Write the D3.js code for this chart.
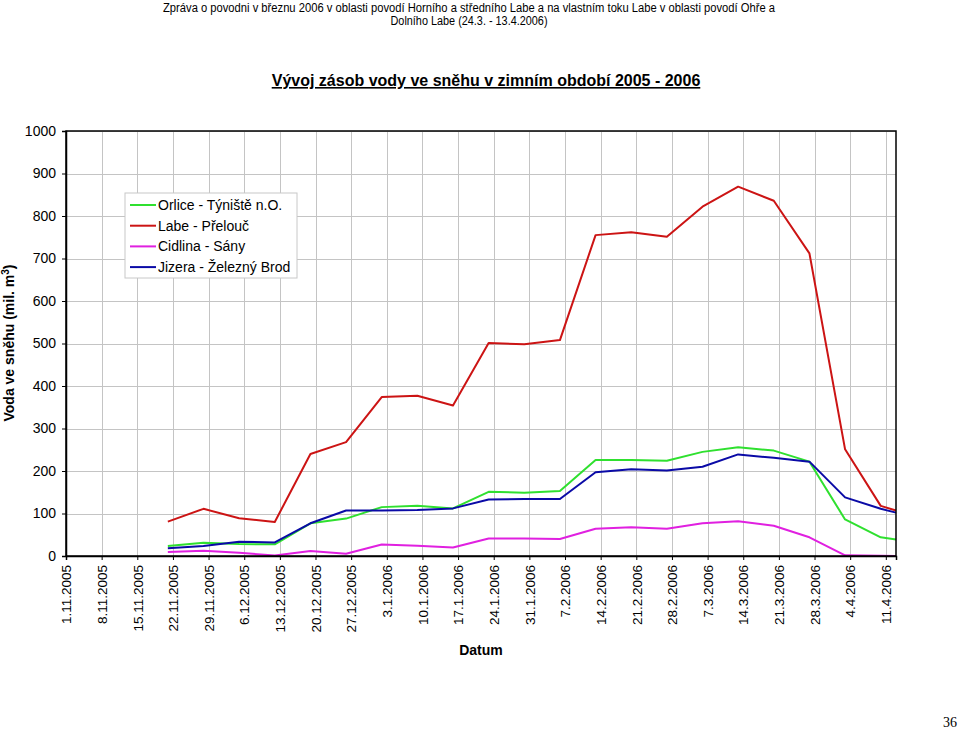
<!DOCTYPE html>
<html>
<head>
<meta charset="utf-8">
<script src="https://cdn.jsdelivr.net/npm/d3@7/dist/d3.min.js"></script>
<style>
  html, body { margin: 0; padding: 0; background: #fff; }
  svg { display: block; }
</style>
</head>
<body>
<svg id="chart" width="959" height="729"></svg>
<script>
// ---- data ----
const dates = ["21.11.2005","28.11.2005","5.12.2005","12.12.2005","19.12.2005","26.12.2005",
  "2.1.2006","9.1.2006","16.1.2006","23.1.2006","30.1.2006","6.2.2006","13.2.2006","20.2.2006",
  "27.2.2006","6.3.2006","13.3.2006","20.3.2006","27.3.2006","3.4.2006","10.4.2006","13.4.2006"];
const orlice  = [23.5,31,28,27.5,77,88,115,118,112,151,149,153,226,226,224,245,256,248,222,86,44,39];
const labe    = [81,111,89,80,240,268,374,377,354,501,498,508,755,762,751,822,869,836,712,251,118,107];
const cidlina = [9.4,12.5,7.8,1,11.8,5.5,27,24,20,41,41,40,64,67.5,64,77,82,71,44,1.6,0.7,0];
const jizera  = [18,23.5,33.7,32,77,107,107,108,112,133,134,134,197,204,201,210,239,231,222,138,111,102];
const seriesNames = ["Orlice - Týniště n.O.","Labe - Přelouč","Cidlina - Sány","Jizera - Železný Brod"];
const seriesColors = ["#2fe02f","#cc1414","#e020e0","#0a0aa6"];
const xTickLabels = ["1.11.2005","8.11.2005","15.11.2005","22.11.2005","29.11.2005","6.12.2005",
  "13.12.2005","20.12.2005","27.12.2005","3.1.2006","10.1.2006","17.1.2006","24.1.2006","31.1.2006",
  "7.2.2006","14.2.2006","21.2.2006","28.2.2006","7.3.2006","14.3.2006","21.3.2006","28.3.2006",
  "4.4.2006","11.4.2006"];
const yTicks = [0,100,200,300,400,500,600,700,800,900,1000];
const xDomain = ["1.11.2005","13.4.2006"];

// ---- layout ----
const svg = d3.select("#chart");
const parse = d3.utcParse("%d.%m.%Y");
const L = 66, R = 896, T = 131, B = 556;
const x = d3.scaleUtc().domain(xDomain.map(parse)).range([L, R]);
const y = d3.scaleLinear().domain([0, 1000]).range([B, T]);

// header
const hdr = svg.append("g").attr("font-family", "'Liberation Sans Narrow', 'Liberation Sans', Arial, sans-serif")
  .attr("font-size", 12.5).attr("fill", "#000").attr("text-anchor", "middle");
hdr.append("text").attr("x", 469).attr("y", 12)
  .attr("textLength", 612).attr("lengthAdjust", "spacingAndGlyphs")
  .text("Zpráva o povodni v březnu 2006 v oblasti povodí Horního a středního Labe a na vlastním toku Labe v oblasti povodí Ohře a");
hdr.append("text").attr("x", 469).attr("y", 25)
  .attr("textLength", 157).attr("lengthAdjust", "spacingAndGlyphs")
  .text("Dolního Labe (24.3. - 13.4.2006)");

// title
svg.append("text").attr("x", 486).attr("y", 86).attr("text-anchor", "middle")
  .attr("font-family", "'Liberation Sans', Arial, sans-serif").attr("font-size", 16)
  .attr("font-weight", "bold").attr("text-decoration", "underline")
  .text("Vývoj zásob vody ve sněhu v zimním období 2005 - 2006");

// gridlines
const grid = svg.append("g").attr("stroke", "#c4c4c4").attr("stroke-width", 1);
grid.selectAll("line.h").data(yTicks).join("line")
  .attr("x1", L).attr("x2", R).attr("y1", d => Math.round(y(d)) + 0.5).attr("y2", d => Math.round(y(d)) + 0.5);
grid.selectAll("line.v").data(xTickLabels).join("line")
  .attr("x1", d => Math.round(x(parse(d))) + 0.5).attr("x2", d => Math.round(x(parse(d))) + 0.5)
  .attr("y1", T).attr("y2", B);

// lines
const allSeries = [orlice, labe, cidlina, jizera];
const line = d3.line().x((d, i) => x(parse(dates[i]))).y(d => y(d));
svg.append("g").selectAll("path").data(allSeries).join("path")
  .attr("d", d => line(d)).attr("fill", "none")
  .attr("stroke", (d, i) => seriesColors[i]).attr("stroke-width", 2)
  .attr("stroke-linejoin", "round");

// plot frame
svg.append("rect").attr("x", L).attr("y", T).attr("width", R - L).attr("height", B - T)
  .attr("fill", "none").attr("stroke", "#000").attr("stroke-width", 1.5);

// y axis
const yAxis = d3.axisLeft(y).tickValues(yTicks).tickSize(4).tickPadding(6).tickFormat(d3.format("d"));
const gy = svg.append("g").attr("transform", `translate(${L},0)`).call(yAxis);
gy.select(".domain").attr("stroke", "#000").attr("stroke-width", 1.5);
gy.selectAll("text").attr("font-family", "'Liberation Sans', Arial, sans-serif").attr("font-size", 14).attr("fill", "#000");

// x axis
const xAxis = d3.axisBottom(x).tickValues(xTickLabels.map(parse)).tickSize(4)
  .tickFormat((d, i) => xTickLabels[i]);
const gx = svg.append("g").attr("transform", `translate(0,${B})`).call(xAxis);
gx.select(".domain").attr("stroke", "#000").attr("stroke-width", 1.5);
gx.selectAll("text").attr("font-family", "'Liberation Sans', Arial, sans-serif").attr("font-size", 13.5)
  .attr("fill", "#000").attr("transform", "rotate(-90)").attr("text-anchor", "end")
  .attr("x", -9).attr("y", 0).attr("dy", "0.35em");

// axis titles
const yl = svg.append("text").attr("transform", "translate(14,343) rotate(-90)")
  .attr("text-anchor", "middle").attr("font-family", "'Liberation Sans', Arial, sans-serif")
  .attr("font-size", 14).attr("font-weight", "bold");
yl.append("tspan").text("Voda ve sněhu (mil. m");
yl.append("tspan").attr("baseline-shift", "super").attr("font-size", 10).text("3");
yl.append("tspan").text(")");

svg.append("text").attr("x", 481).attr("y", 655).attr("text-anchor", "middle")
  .attr("font-family", "'Liberation Sans', Arial, sans-serif").attr("font-size", 14)
  .attr("font-weight", "bold").text("Datum");

// legend
const lg = svg.append("g").attr("transform", "translate(125,193)");
lg.append("rect").attr("x", 0).attr("y", 0).attr("width", 172).attr("height", 85)
  .attr("fill", "#fff").attr("stroke", "#c8c8c8").attr("stroke-width", 1);
const items = lg.selectAll("g.it").data(seriesNames).join("g")
  .attr("transform", (d, i) => `translate(0,${12 + i * 20.7})`);
items.append("line").attr("x1", 5).attr("x2", 31).attr("y1", 0).attr("y2", 0)
  .attr("stroke", (d, i) => seriesColors[i]).attr("stroke-width", 2);
items.append("text").attr("x", 33).attr("y", 0).attr("dy", "0.35em")
  .attr("font-family", "'Liberation Sans', Arial, sans-serif").attr("font-size", 14).text(d => d);

// page number
svg.append("text").attr("x", 950).attr("y", 727).attr("text-anchor", "middle")
  .attr("font-family", "'Liberation Serif', 'Times New Roman', serif").attr("font-size", 14).text("36");
</script>
</body>
</html>
